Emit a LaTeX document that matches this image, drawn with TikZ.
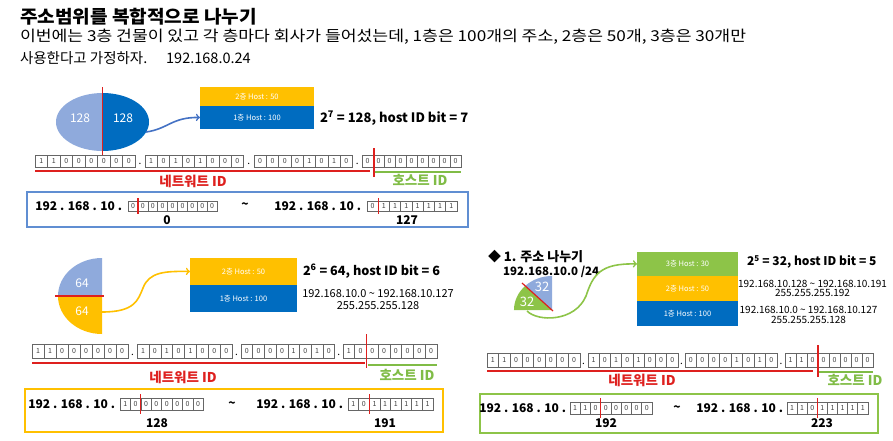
\documentclass[tikz,border=0pt]{standalone}
\usepackage{fontspec}
\setmainfont{Noto Sans CJK KR}
\usetikzlibrary{positioning}

\definecolor{paleblue}{RGB}{143,170,220}
\definecolor{deepblue}{RGB}{0,108,192}
\definecolor{amber}{RGB}{255,192,0}
\definecolor{leaf}{RGB}{141,196,72}
\definecolor{netred}{RGB}{222,32,30}
\definecolor{hostgreen}{RGB}{128,188,70}
\definecolor{frameblue}{RGB}{96,142,210}
\definecolor{arrowblue}{RGB}{68,114,196}

% one octet of bit cells: name, x start, y, cell width, cell height, bits
\newcommand{\octet}[6]{%
  \foreach \b [count=\i] in {#6}
    \node[bitcell,minimum width=#4pt,minimum height=#5pt] (#1\i) at ({#2+(\i-0.5)*#4},#3) {\b};%
}

\begin{document}
\begin{tikzpicture}[x=1pt,y=-1pt,
  every node/.style={inner sep=0pt,outer sep=0pt},
  bitcell/.style={draw=black!60,fill=white,line width=0.6pt,text=black!75,font=\fontsize{7}{7}\selectfont},
  octdot/.style={font=\fontsize{10}{10}\selectfont},
  hostbox/.style={text=white,font=\fontsize{7.5}{8}\selectfont},
  pielabel/.style={text=white,font=\fontsize{12}{12}\selectfont},
  formula/.style={anchor=west,font=\fontsize{13}{13}\selectfont\bfseries},
  rangetext/.style={align=center,font=\fontsize{11}{11.5}\selectfont},
  iptext/.style={font=\fontsize{12}{12}\selectfont\bfseries},
  netlabel/.style={text=netred,font=\fontsize{13.5}{14}\selectfont\bfseries},
  hostlabel/.style={text=hostgreen,font=\fontsize{13.5}{14}\selectfont\bfseries},
  netline/.style={draw=netred,line width=1.4pt},
  hostline/.style={draw=hostgreen,line width=1.4pt},
  cutline/.style={draw=netred,line width=1.2pt},
  link/.style={->,line width=1.6pt},
  frame/.style={draw,line width=1.5pt},
  intro/.style={anchor=west,font=\fontsize{14.5}{15}\selectfont}]

\useasboundingbox (0,0) rectangle (893,440);

% heading text
\node[anchor=west,font=\fontsize{18}{18}\selectfont\bfseries] (title) at (20,17) {\scalebox{1.06}[1]{주소범위를 복합적으로 나누기}};
\node[intro,font=\fontsize{15}{15}\selectfont] (intro1) at (20,37) {\scalebox{1.145}[1]{이번에는 3층 건물이 있고 각 층마다 회사가 들어섰는데, 1층은 100개의 주소, 2층은 50개, 3층은 30개만}};
\node[intro] (intro2) at (20,58) {사용한다고 가정하자.\hspace{1.3em}192.168.0.24};

% ---- first split : 128 / 128
\fill[paleblue] (102.5,93) arc[start angle=270,end angle=90,x radius=46.5,y radius=29] -- cycle;
\fill[deepblue] (102.5,93) arc[start angle=270,end angle=450,x radius=46.5,y radius=29] -- cycle;
\draw[cutline] (102.5,87) -- (102.5,155);
\node[pielabel] (p1left) at (80,118) {128};
\node[pielabel] (p1right) at (123,118) {128};
\coordinate (p1out) at (146,132);

\node[hostbox,fill=amber,minimum width=114pt,minimum height=19pt] (p1top) at (257,96.5) {2층 Host : 50};
\node[hostbox,fill=deepblue,minimum width=114pt,minimum height=23pt,below=0pt of p1top] (p1bot) {1층 Host : 100};
\draw[link,arrowblue] (p1out) .. controls (168,129) and (172,117) .. (p1bot.west);
\node[formula] (p1calc) at (320,118) {2\textsuperscript{7} = 128, host ID bit = 7};

\octet{p1a}{35}{161}{12.5}{12}{1,1,0,0,0,0,0,0}
\node[octdot] (p1ab) at (140,164) {.};
\octet{p1b}{145}{161}{12.3}{12}{1,0,1,0,1,0,0,0}
\node[octdot] (p1bc) at (248.7,164) {.};
\octet{p1c}{254}{161}{12.3}{12}{0,0,0,0,1,0,1,0}
\node[octdot] (p1cd) at (357.2,164) {.};
\octet{p1d}{362}{161}{11}{12}{0,0,0,0,0,0,0,0,0}
\draw[netline] ([yshift=-4pt]p1a1.south west) -- ([xshift=-3pt,yshift=-4pt]p1d1.south east);
\draw[hostline] ([xshift=2pt,yshift=-5pt]p1d1.south east) -- ([yshift=-5pt]p1d9.south east);
\draw[cutline] ([xshift=1pt,yshift=7pt]p1d1.north east) -- ([xshift=1pt,yshift=-10pt]p1d1.south east);
\node[netlabel] (p1net) at (193,181) {네트워트 ID};
\node[hostlabel] (p1host) at (420,180) {호스트 ID};

\node[frame,draw=frameblue,minimum width=441pt,minimum height=35pt] (p1range) at (247.5,209.5) {};
\octet{p1l}{128}{206}{9.9}{10}{0,0,0,0,0,0,0,0,0}
\octet{p1r}{367}{206}{11.25}{10}{0,1,1,1,1,1,1,1}
\node[iptext,left=6pt of p1l1] (p1lip) {192 . 168 . 10 .};
\node[iptext,left=6pt of p1r1] (p1rip) {192 . 168 . 10 .};
\node[iptext] (p1tilde) at (245,206) {\textasciitilde};
\draw[cutline] ([yshift=3pt]p1l1.north east) -- ([yshift=-3pt]p1l1.south east);
\draw[cutline] ([yshift=3pt]p1r1.north east) -- ([yshift=-3pt]p1r1.south east);
\node[iptext] (p1lo) at (167,220) {0};
\node[iptext] (p1hi) at (407,220) {127};

% ---- second split : 64 / 64
\fill[paleblue] (102,258) arc[start angle=270,end angle=180,x radius=44,y radius=38] -- (102,296) -- cycle;
\fill[amber] (58,296) arc[start angle=180,end angle=90,x radius=44,y radius=38] -- (102,296) -- cycle;
\draw[cutline] (55,296) -- (104,296);
\node[pielabel] (p2upper) at (82,283) {64};
\node[pielabel] (p2lower) at (82,311) {64};
\coordinate (p2out) at (102,312);

\node[hostbox,fill=amber,minimum width=107pt,minimum height=27pt] (p2top) at (243.5,271.5) {2층 Host : 50};
\node[hostbox,fill=deepblue,minimum width=107pt,minimum height=27pt,below=0pt of p2top] (p2bot) {1층 Host : 100};
\draw[link,amber] (p2out) .. controls (135,312) and (138,300) .. (143,288) .. controls (149,272) and (165,271) .. (p2top.west);
\node[formula,font=\fontsize{12.7}{13}\selectfont\bfseries] (p2calc) at (303,271) {2\textsuperscript{6} = 64, host ID bit = 6};
\node[rangetext] (p2span) at (378,299.5) {192.168.10.0 \textasciitilde{} 192.168.10.127\\255.255.255.128};

\octet{p2a}{32}{351}{12}{14}{1,1,0,0,0,0,0,0}
\node[octdot] (p2ab) at (132.5,355) {.};
\octet{p2b}{137}{351}{11.9}{14}{1,0,1,0,1,0,0,0}
\node[octdot] (p2bc) at (236.6,355) {.};
\octet{p2c}{241}{351}{11.7}{14}{0,0,0,0,1,0,1,0}
\node[octdot] (p2cd) at (338.8,355) {.};
\octet{p2d}{343}{351}{11.75}{14}{1,0,0,0,0,0,0,0}
\draw[netline] ([yshift=-5pt]p2a1.south west) -- ([xshift=-2pt,yshift=-5pt]p2d2.south east);
\draw[hostline] ([xshift=1pt,yshift=-7pt]p2d2.south east) -- ([yshift=-7pt]p2d8.south east);
\draw[cutline] ([yshift=10pt]p2d2.north east) -- ([yshift=-10pt]p2d2.south east);
\node[netlabel] (p2net) at (183,377) {네트워트 ID};
\node[hostlabel] (p2host) at (407,375) {호스트 ID};

\node[frame,draw=amber,minimum width=418pt,minimum height=43pt] (p2range) at (234,410.5) {};
\octet{p2l}{120}{404}{10.4}{12}{1,0,0,0,0,0,0,0}
\octet{p2r}{348}{404}{10.6}{12}{1,0,1,1,1,1,1,1}
\node[iptext,left=5pt of p2l1] (p2lip) {192 . 168 . 10 .};
\node[iptext,left=5pt of p2r1] (p2rip) {192 . 168 . 10 .};
\node[iptext] (p2tilde) at (232,405) {\textasciitilde};
\draw[cutline] ([yshift=4pt]p2l2.north east) -- ([yshift=-4pt]p2l2.south east);
\draw[cutline] ([yshift=4pt]p2r2.north east) -- ([yshift=-4pt]p2r2.south east);
\node[iptext] (p2lo) at (157,423) {128};
\node[iptext] (p2hi) at (385,423) {191};

% ---- third split : 32 / 32
\node[anchor=west,font=\fontsize{13}{13}\selectfont\bfseries] (p3head) at (488,257) {◆ 1. 주소 나누기};
\node[anchor=west,font=\fontsize{11.5}{12}\selectfont\bfseries] (p3base) at (503,272) {192.168.10.0 /24};
\fill[paleblue] (552,310) -- (552,276) arc[start angle=270,end angle=225,x radius=38,y radius=34] -- cycle;
\fill[leaf] (552,310) -- (525.1,286) arc[start angle=225,end angle=180,x radius=38,y radius=34] -- cycle;
\draw[cutline] (553,311) -- (522,283);
\node[pielabel,font=\fontsize{13}{13}\selectfont] (p3upper) at (542,287) {32};
\node[pielabel,font=\fontsize{13}{13}\selectfont] (p3lower) at (527,302) {32};
\coordinate (p3out) at (527,311);

\node[hostbox,fill=leaf,minimum width=101pt,minimum height=24pt] (p3top) at (687.5,264) {3층 Host : 30};
\node[hostbox,fill=amber,minimum width=101pt,minimum height=25pt,below=0pt of p3top] (p3mid) {2층 Host : 50};
\node[hostbox,fill=deepblue,minimum width=101pt,minimum height=25pt,below=0pt of p3mid] (p3bot) {1층 Host : 100};
\draw[link,leaf] (p3out) .. controls (538,322) and (575,322) .. (586,296) .. controls (593,275) and (600,263) .. (p3top.west);
\node[formula,font=\fontsize{12}{12}\selectfont\bfseries] (p3calc) at (747,262) {2\textsuperscript{5} = 32, host ID bit = 5};
\node[rangetext,font=\fontsize{10}{9.5}\selectfont] (p3span2) at (812.5,288.5) {192.168.10.128 \textasciitilde{} 192.168.10.191\\255.255.255.192};
\node[rangetext,font=\fontsize{10}{10}\selectfont] (p3span1) at (808.5,315) {192.168.10.0 \textasciitilde{} 192.168.10.127\\255.255.255.128};

\octet{p3a}{487}{360}{11.6}{14}{1,1,0,0,0,0,0,0}
\node[octdot] (p3ab) at (583.5,364) {.};
\octet{p3b}{588}{360}{11.25}{14}{1,0,1,0,1,0,0,0}
\node[octdot] (p3bc) at (681.5,364) {.};
\octet{p3c}{685}{360}{11.5}{14}{0,0,0,0,1,0,1,0}
\node[octdot] (p3cd) at (781,364) {.};
\octet{p3d}{785}{360}{11}{14}{1,1,0,0,0,0,0,0}
\draw[netline] ([yshift=-4pt]p3a1.south west) -- ([xshift=-5pt,yshift=-4pt]p3d3.south east);
\draw[hostline] ([xshift=1pt,yshift=-5pt]p3d3.south east) -- ([yshift=-5pt]p3d8.south east);
\draw[cutline] ([yshift=8pt]p3d3.north east) -- ([yshift=-10pt]p3d3.south east);
\node[netlabel] (p3net) at (642,380) {네트워트 ID};
\node[hostlabel] (p3host) at (855,380) {호스트 ID};

\node[frame,draw=leaf,minimum width=398pt,minimum height=39pt] (p3range) at (679,413.5) {};
\octet{p3l}{570}{408}{10.25}{12}{1,1,0,0,0,0,0,0}
\octet{p3r}{787}{408}{10.1}{12}{1,1,0,1,1,1,1,1}
\node[iptext,left=4pt of p3l1] (p3lip) {192 . 168 . 10 .};
\node[iptext,left=4pt of p3r1] (p3rip) {192 . 168 . 10 .};
\node[iptext] (p3tilde) at (677,409) {\textasciitilde};
\draw[cutline] ([yshift=4pt]p3l3.north east) -- ([yshift=-4pt]p3l3.south east);
\draw[cutline] ([yshift=4pt]p3r3.north east) -- ([yshift=-4pt]p3r3.south east);
\node[iptext] (p3lo) at (606,423) {192};
\node[iptext] (p3hi) at (822,423) {223};

\end{tikzpicture}
\end{document}
